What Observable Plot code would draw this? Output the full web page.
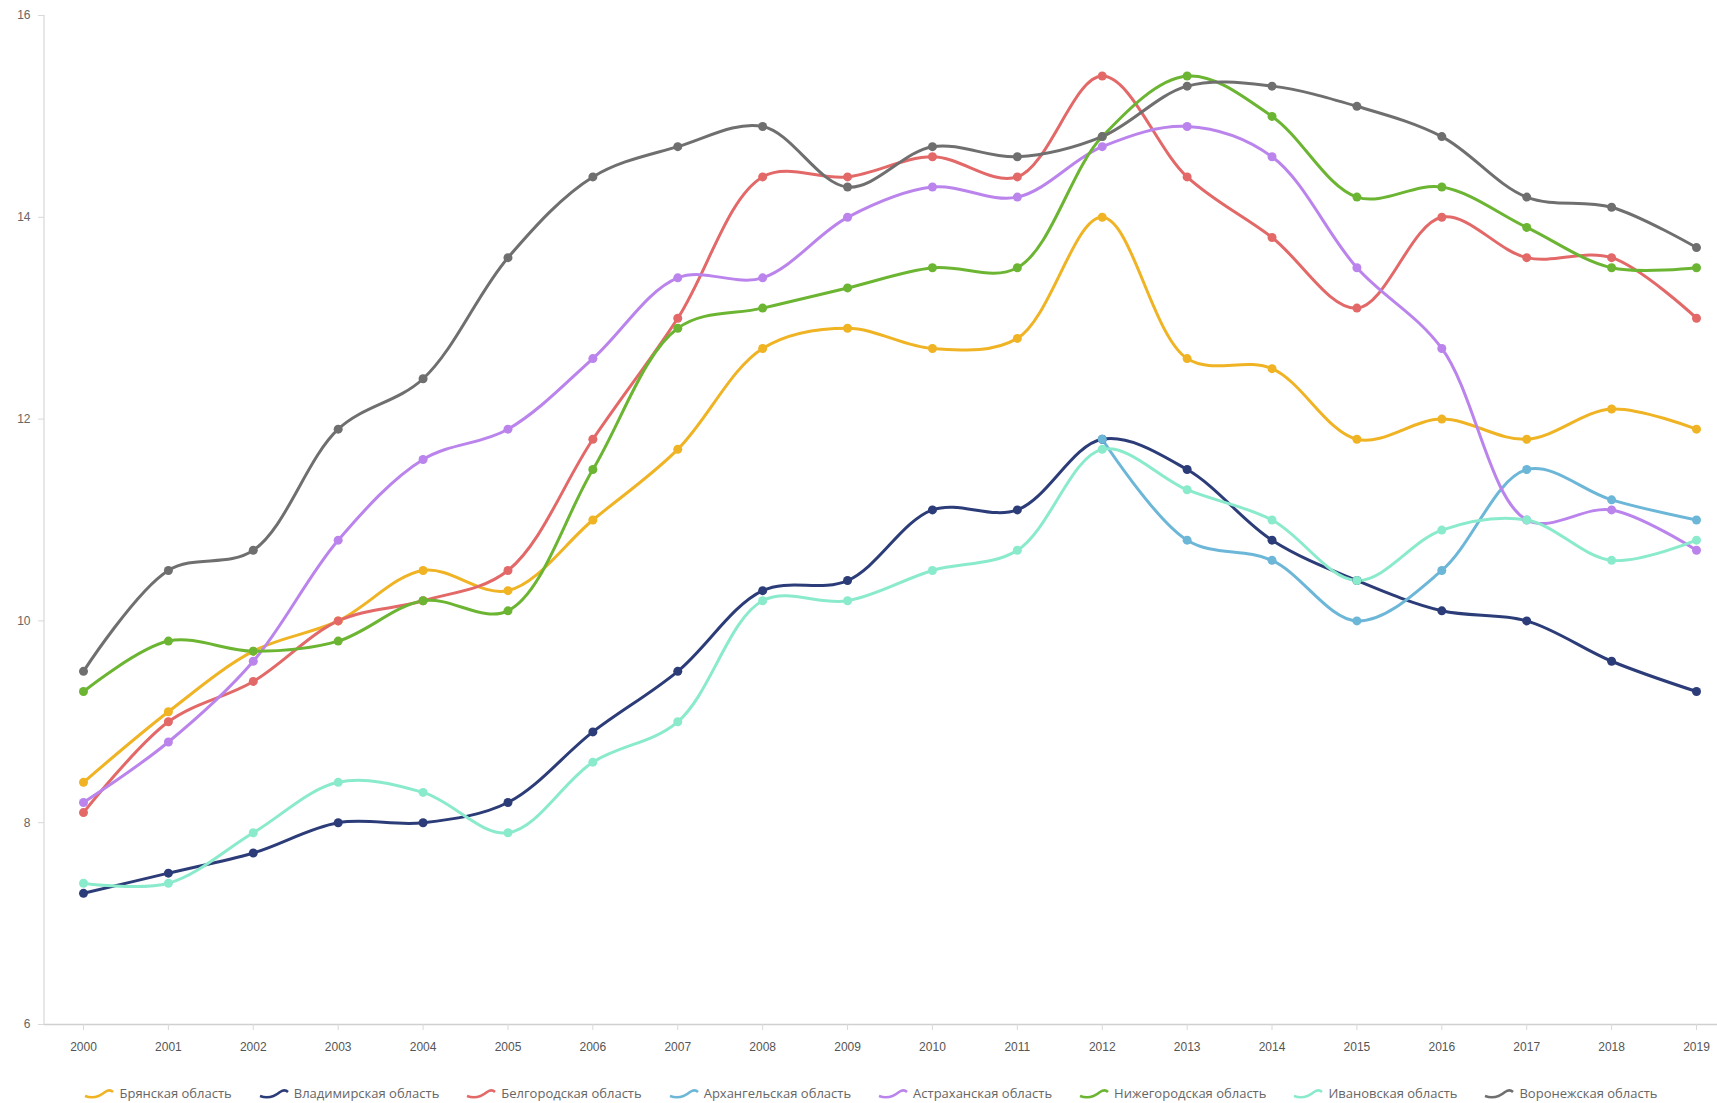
<!DOCTYPE html>
<html>
<head>
<meta charset="utf-8">
<script src="https://cdn.jsdelivr.net/npm/d3@7"></script>
<script src="https://cdn.jsdelivr.net/npm/@observablehq/plot@0.6"></script>
<style>
  html, body { margin: 0; padding: 0; background: #fff; }
  #chart svg { display: block; }
  #legend { display: flex; justify-content: center; gap: 26px; font-family: "Open Sans", sans-serif; font-size: 13px; color: #666; height: 30px; align-items: center; margin-top: 8px; margin-left: 24px; }
  #legend .item { display: flex; align-items: center; gap: 4px; white-space: nowrap; }
</style>
</head>
<body>
<div id="chart"></div>
<div id="legend"></div>
<script>
const years = d3.range(2000, 2020);
const regions = ["Брянская область", "Владимирская область", "Белгородская область", "Архангельская область", "Астраханская область", "Нижегородская область", "Ивановская область", "Воронежская область"];
const colors = ["#efb324", "#2c3c78", "#e36868", "#6cb6d8", "#ba84ec", "#6bb532", "#8aeacc", "#6f6f6f"];

const bryansk    = [8.4, 9.1, 9.7, 10.0, 10.5, 10.3, 11.0, 11.7, 12.7, 12.9, 12.7, 12.8, 14.0, 12.6, 12.5, 11.8, 12.0, 11.8, 12.1, 11.9];
const vladimir   = [7.3, 7.5, 7.7, 8.0, 8.0, 8.2, 8.9, 9.5, 10.3, 10.4, 11.1, 11.1, 11.8, 11.5, 10.8, 10.4, 10.1, 10.0, 9.6, 9.3];
const belgorod   = [8.1, 9.0, 9.4, 10.0, 10.2, 10.5, 11.8, 13.0, 14.4, 14.4, 14.6, 14.4, 15.4, 14.4, 13.8, 13.1, 14.0, 13.6, 13.6, 13.0];
const arkhangelsk= [null, null, null, null, null, null, null, null, null, null, null, null, 11.8, 10.8, 10.6, 10.0, 10.5, 11.5, 11.2, 11.0];
const astrakhan  = [8.2, 8.8, 9.6, 10.8, 11.6, 11.9, 12.6, 13.4, 13.4, 14.0, 14.3, 14.2, 14.7, 14.9, 14.6, 13.5, 12.7, 11.0, 11.1, 10.7];
const nizhny     = [9.3, 9.8, 9.7, 9.8, 10.2, 10.1, 11.5, 12.9, 13.1, 13.3, 13.5, 13.5, 14.8, 15.4, 15.0, 14.2, 14.3, 13.9, 13.5, 13.5];
const ivanovo    = [7.4, 7.4, 7.9, 8.4, 8.3, 7.9, 8.6, 9.0, 10.2, 10.2, 10.5, 10.7, 11.7, 11.3, 11.0, 10.4, 10.9, 11.0, 10.6, 10.8];
const voronezh   = [9.5, 10.5, 10.7, 11.9, 12.4, 13.6, 14.4, 14.7, 14.9, 14.3, 14.7, 14.6, 14.8, 15.3, 15.3, 15.1, 14.8, 14.2, 14.1, 13.7];
const yTicks = [6, 8, 10, 12, 14, 16];

const seriesValues = [bryansk, vladimir, belgorod, arkhangelsk, astrakhan, nizhny, ivanovo, voronezh];
const data = [];
regions.forEach((r, i) => {
  years.forEach((y, j) => {
    const v = seriesValues[i][j];
    if (v != null) data.push({region: r, year: y, value: v});
  });
});

const plot = Plot.plot({
  width: 1717,
  height: 1070,
  marginLeft: 44,
  marginRight: 0,
  marginTop: 15,
  marginBottom: 46,
  style: {fontFamily: "'Liberation Sans', Arial, sans-serif", fontSize: "12px", color: "#555", background: "#fff"},
  x: {domain: [2000, 2019], insetLeft: 39, insetRight: 21},
  y: {domain: [6, 16]},
  color: {domain: regions, range: colors},
  marks: [
    Plot.ruleY([6], {stroke: "#d0d0d0", strokeWidth: 1.5}),
    Plot.axisY({ticks: yTicks, tickSize: 6, tickPadding: 8, stroke: "#d8d8d8", fill: "#666", label: null}),
    Plot.axisX({ticks: years, tickFormat: d => String(d), tickSize: 6, tickPadding: 12, stroke: "#d8d8d8", fill: "#555", label: null}),
    Plot.line(data, {x: "year", y: "value", z: "region", stroke: "region", strokeWidth: 3, curve: "catmull-rom"}),
    Plot.dot(data, {x: "year", y: "value", fill: "region", r: 4.5})
  ]
});
const svg = d3.select(plot);
svg.append("line").attr("x1", 44).attr("x2", 44).attr("y1", 15).attr("y2", 1024).attr("stroke", "#d8d8d8").attr("stroke-width", 1.2);
document.getElementById("chart").appendChild(plot);

const legend = document.getElementById("legend");
regions.forEach((r, i) => {
  const item = document.createElement("div");
  item.className = "item";
  item.innerHTML = `<svg width="32" height="12"><path d="M2,9 C10,12 16,10 22,5 C25,3 28,3 30,5" fill="none" stroke="${colors[i]}" stroke-width="2.5"/></svg><span>${r}</span>`;
  legend.appendChild(item);
});
</script>
</body>
</html>
